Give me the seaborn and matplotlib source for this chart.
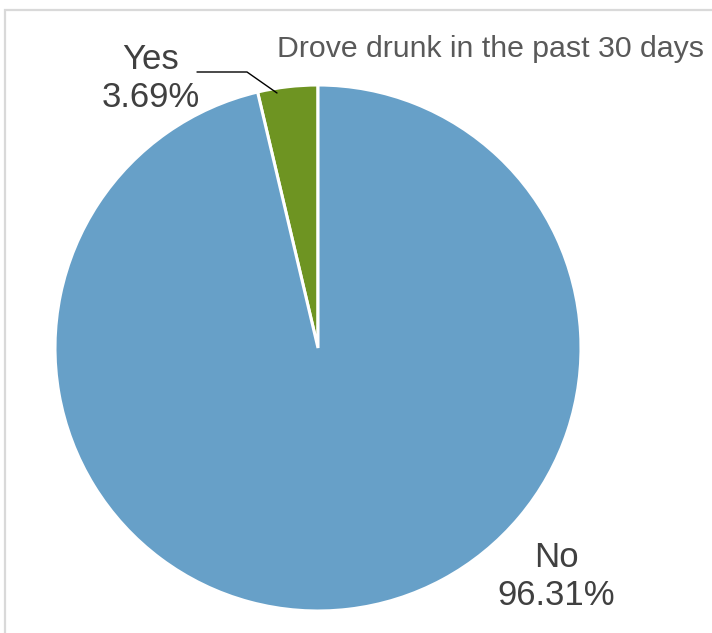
import matplotlib
matplotlib.use('Agg')
import matplotlib.pyplot as plt
import matplotlib.patches as mpatches
import seaborn as sns

# data
labels = ['Yes', 'No']
values = [3.69, 96.31]
colors = ['#6E9422', '#67A0C8']
title = 'Drove drunk in the past 30 days'

sns.set_theme(style='white')
plt.rcParams['font.family'] = ['Liberation Sans Narrow', 'Liberation Sans', 'DejaVu Sans']

W, H = 712, 633
fig = plt.figure(figsize=(W / 100, H / 100), dpi=100)
ax = fig.add_axes([0, 0, 1, 1])
ax.set_xlim(0, W)
ax.set_ylim(0, H)
ax.set_aspect('equal')
ax.axis('off')

# pixel y (from top) -> axes y
def py(y):
    return H - y

# chart frame (only left and top edges visible)
ax.add_patch(mpatches.Rectangle((5, -20), W + 40, py(10) + 20, fill=False,
                                edgecolor='#d9d9d9', linewidth=1.6, clip_on=False))

ax.pie(values, colors=colors, startangle=90, counterclock=True,
       center=(318, py(348)), radius=263, frame=True,
       wedgeprops=dict(edgecolor='white', linewidth=2.2))
ax.set_xlim(0, W)
ax.set_ylim(0, H)
ax.axis('off')

txt_color = '#404040'
label_pos = {'Yes': (151, py(107)), 'No': (556, py(605))}
for lab, val in zip(labels, values):
    x, y = label_pos[lab]
    ax.text(x, y, f'{lab}\n{val:.2f}%', ha='center', va='baseline',
            multialignment='center', fontsize=25, color=txt_color, linespacing=1.2)

# leader line for the small slice
ax.annotate('', xy=(277, py(93)), xytext=(197, py(72)),
            arrowprops=dict(arrowstyle='-', color='black', linewidth=1.0,
                            shrinkA=0, shrinkB=0,
                            connectionstyle='angle,angleA=0,angleB=145,rad=0'))

ax.text(277, py(57), title, ha='left', va='baseline', fontsize=21.8,
        color='#595959', family=['Liberation Sans', 'DejaVu Sans'])

fig.savefig('out.png', dpi=100)
